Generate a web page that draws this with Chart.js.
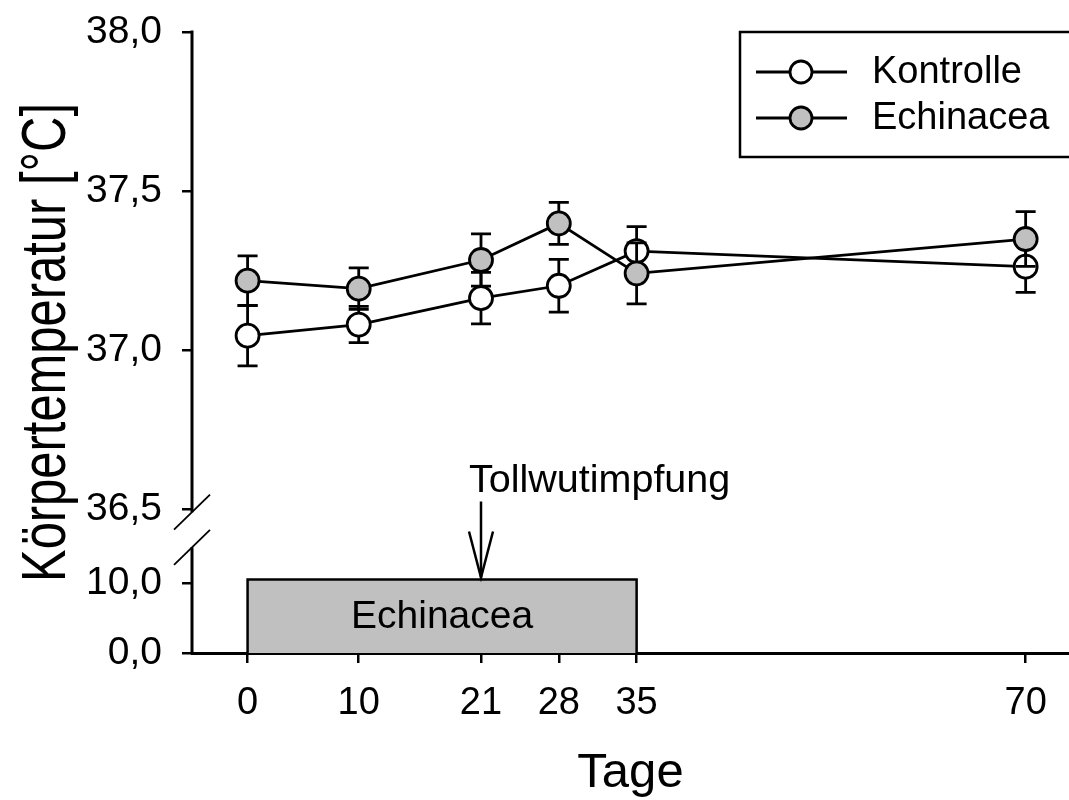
<!DOCTYPE html>
<html><head><meta charset="utf-8">
<script src="https://cdn.jsdelivr.net/npm/chart.js@4.4.1/dist/chart.umd.min.js"></script>
<style>html,body{margin:0;padding:0;background:#fff;}canvas{display:block;}</style>
</head><body>
<canvas id="c" width="1069" height="800"></canvas>
<script>
// ---- data ----
const days = [0, 10, 21, 28, 35, 70];
const kontrolle = [37.045, 37.080, 37.163, 37.202, 37.311, 37.262];
const kontrolleErr = [0.095, 0.057, 0.081, 0.083, 0.077, 0.081];
const echinacea = [37.218, 37.193, 37.283, 37.398, 37.241, 37.349];
const echinaceaErr = [0.078, 0.065, 0.082, 0.066, 0.096, 0.086];
const treatmentStart = 0;
const treatmentEnd = 35;
const treatmentLevel = 10.5;
const vaccinationDay = 21;
const xTickValues = [0, 10, 21, 28, 35, 70];
const yTickValues = [36.5, 37.0, 37.5, 38.0];
const yTickLabels = ['36,5', '37,0', '37,5', '38,0'];
const lowTickValues = [0, 10];
const lowTickLabels = ['0,0', '10,0'];
const seriesNames = ['Kontrolle', 'Echinacea'];
const treatmentLabel = 'Echinacea';
const vaccinationLabel = 'Tollwutimpfung';
const yTitle = 'Körpertemperatur [°C]';
const xTitle = 'Tage';

const FONT = "'Liberation Sans', Arial, Helvetica, sans-serif";
Chart.defaults.font.family = FONT;
Chart.defaults.color = '#000';

const GREY = '#c0c0c0';
const LW = 2.8;
const pts = (vals) => days.map((d, i) => ({x: d, y: vals[i]}));

const errPlugin = {
  id: 'errbars',
  beforeDatasetDraw(chart, args) {
    const ds = chart.data.datasets[args.index];
    if (!ds.errors) return;
    const ctx = chart.ctx, xs = chart.scales.x, ys = chart.scales[ds.yAxisID];
    ctx.save();
    ctx.strokeStyle = '#000'; ctx.lineWidth = LW;
    ds.data.forEach((p, i) => {
      const x = xs.getPixelForValue(p.x);
      const t = ys.getPixelForValue(p.y + ds.errors[i]);
      const b = ys.getPixelForValue(p.y - ds.errors[i]);
      ctx.beginPath();
      ctx.moveTo(x, t); ctx.lineTo(x, b);
      ctx.moveTo(x - 10, t); ctx.lineTo(x + 10, t);
      ctx.moveTo(x - 10, b); ctx.lineTo(x + 10, b);
      ctx.stroke();
    });
    ctx.restore();
  }
};

const decoPlugin = {
  id: 'deco',
  afterDraw(chart) {
    const ctx = chart.ctx;
    const xs = chart.scales.x, ys = chart.scales.y, ys2 = chart.scales.y2;
    const line = (a, b, c, d) => { ctx.beginPath(); ctx.moveTo(a, b); ctx.lineTo(c, d); ctx.stroke(); };
    ctx.save();
    ctx.strokeStyle = '#000'; ctx.fillStyle = '#000';
    // axis with break
    const ax = ys.right;
    const upTop = ys.getPixelForValue(38) - 1.5;
    const upBot = ys.getPixelForValue(36.49);
    const lowTop = ys2.getPixelForValue(15.1);
    const lowBot = ys2.getPixelForValue(0) + 1.5;
    ctx.lineWidth = 3;
    line(ax, upTop, ax, upBot);
    line(ax, lowTop, ax, lowBot);
    ctx.lineWidth = 1.8;
    [upBot, lowTop].forEach(yb => line(ax - 18, yb + 17.5, ax + 18, yb - 17.5));

    // treatment label
    ctx.font = '39px ' + FONT;
    ctx.textAlign = 'center'; ctx.textBaseline = 'middle';
    ctx.fillText(treatmentLabel, xs.getPixelForValue((treatmentStart + treatmentEnd) / 2), ys2.getPixelForValue(treatmentLevel / 2) + 1);

    // vaccination arrow
    const axp = xs.getPixelForValue(vaccinationDay);
    const tip = ys2.getPixelForValue(treatmentLevel) - 2;
    const top = tip - 76;
    ctx.lineWidth = 2.5;
    line(axp, top, axp, tip);
    ctx.beginPath();
    ctx.moveTo(axp - 12, tip - 46); ctx.lineTo(axp, tip); ctx.lineTo(axp + 12, tip - 46);
    ctx.stroke();
    ctx.font = '39.5px ' + FONT;
    ctx.textAlign = 'left'; ctx.textBaseline = 'alphabetic';
    ctx.fillText(vaccinationLabel, axp - 12, top - 9);

    // legend
    const L = 740, T = chart.chartArea.top;
    ctx.lineWidth = 2.5;
    ctx.strokeRect(L, T, 400, 125);
    const fills = ['#ffffff', GREY];
    [40, 86].forEach((dy, k) => {
      const yy = T + dy;
      ctx.lineWidth = LW;
      line(L + 16, yy, L + 107, yy);
      ctx.beginPath(); ctx.arc(L + 61, yy, 11, 0, Math.PI * 2);
      ctx.fillStyle = fills[k]; ctx.fill(); ctx.stroke();
      ctx.fillStyle = '#000';
      ctx.font = '38px ' + FONT; ctx.textAlign = 'left'; ctx.textBaseline = 'middle';
      ctx.fillText(seriesNames[k], L + 132, yy + 1);
    });

    // y title (rotated, condensed along text direction)
    ctx.save();
    ctx.translate(65, 342.5);
    ctx.rotate(-Math.PI / 2);
    ctx.font = '63px ' + FONT;
    const w = ctx.measureText(yTitle).width;
    ctx.scale(479 / w, 1);
    ctx.textAlign = 'center'; ctx.textBaseline = 'alphabetic';
    ctx.fillText(yTitle, 0, 0);
    ctx.restore();
    ctx.restore();
  }
};

const tickGrid = {display: true, drawOnChartArea: false, drawTicks: true, tickLength: 10, color: '#000', lineWidth: 2.5};
const noPadV = (w) => (s) => { s.width = w; s.paddingTop = 0; s.paddingBottom = 0; };

new Chart(document.getElementById('c'), {
  type: 'line',
  data: {
    datasets: [
      {label: seriesNames[1], data: pts(echinacea), errors: echinaceaErr, yAxisID: 'y', order: 0,
       borderColor: '#000', borderWidth: LW, backgroundColor: GREY, pointBackgroundColor: GREY,
       pointBorderColor: '#000', pointBorderWidth: LW, pointRadius: 11.5, tension: 0, fill: false},
      {label: seriesNames[0], data: pts(kontrolle), errors: kontrolleErr, yAxisID: 'y', order: 1,
       borderColor: '#000', borderWidth: LW, backgroundColor: '#fff', pointBackgroundColor: '#fff',
       pointBorderColor: '#000', pointBorderWidth: LW, pointRadius: 11.5, tension: 0, fill: false},
      {label: treatmentLabel, yAxisID: 'y2', order: 2,
       data: [{x: treatmentStart, y: 0}, {x: treatmentStart, y: treatmentLevel}, {x: treatmentEnd, y: treatmentLevel}, {x: treatmentEnd, y: 0}],
       borderColor: '#000', borderWidth: 2.5, backgroundColor: GREY, fill: 'origin', pointRadius: 0, tension: 0}
    ]
  },
  options: {
    responsive: false, animation: false, devicePixelRatio: 1,
    layout: {autoPadding: false, padding: {top: 32, left: 0, right: 0, bottom: 0}},
    plugins: {legend: {display: false}, tooltip: {enabled: false}},
    scales: {
      x: {
        type: 'linear', position: 'bottom', min: -5, max: 73.9,
        afterBuildTicks: s => { s.ticks = xTickValues.map(v => ({value: v})); },
        afterFit: s => { s.height = 147; s.paddingLeft = 0; s.paddingRight = 0; },
        ticks: {autoSkip: false, padding: 18, font: {size: 38}, callback: v => String(v)},
        grid: tickGrid,
        border: {display: true, color: '#000', width: 3},
        title: {display: true, text: xTitle, font: {size: 49, lineHeight: 1.1}, padding: {top: 0, bottom: 0}}
      },
      y: {
        type: 'linear', position: 'left', stack: 'temp', stackWeight: 498, weight: 1,
        min: 36.434, max: 38,
        afterBuildTicks: s => { s.ticks = yTickValues.map(v => ({value: v})); },
        afterFit: noPadV(192),
        ticks: {padding: 20, font: {size: 39}, callback: v => yTickLabels[yTickValues.indexOf(v)]},
        grid: tickGrid,
        border: {display: false}
      },
      y2: {
        type: 'linear', position: 'left', stack: 'temp', stackWeight: 123, weight: 0,
        min: 0, max: 17.57,
        afterBuildTicks: s => { s.ticks = lowTickValues.map(v => ({value: v})); },
        afterFit: noPadV(192),
        ticks: {padding: 20, font: {size: 39}, callback: v => lowTickLabels[lowTickValues.indexOf(v)]},
        grid: tickGrid,
        border: {display: false}
      }
    }
  },
  plugins: [errPlugin, decoPlugin]
});
</script>
</body></html>
